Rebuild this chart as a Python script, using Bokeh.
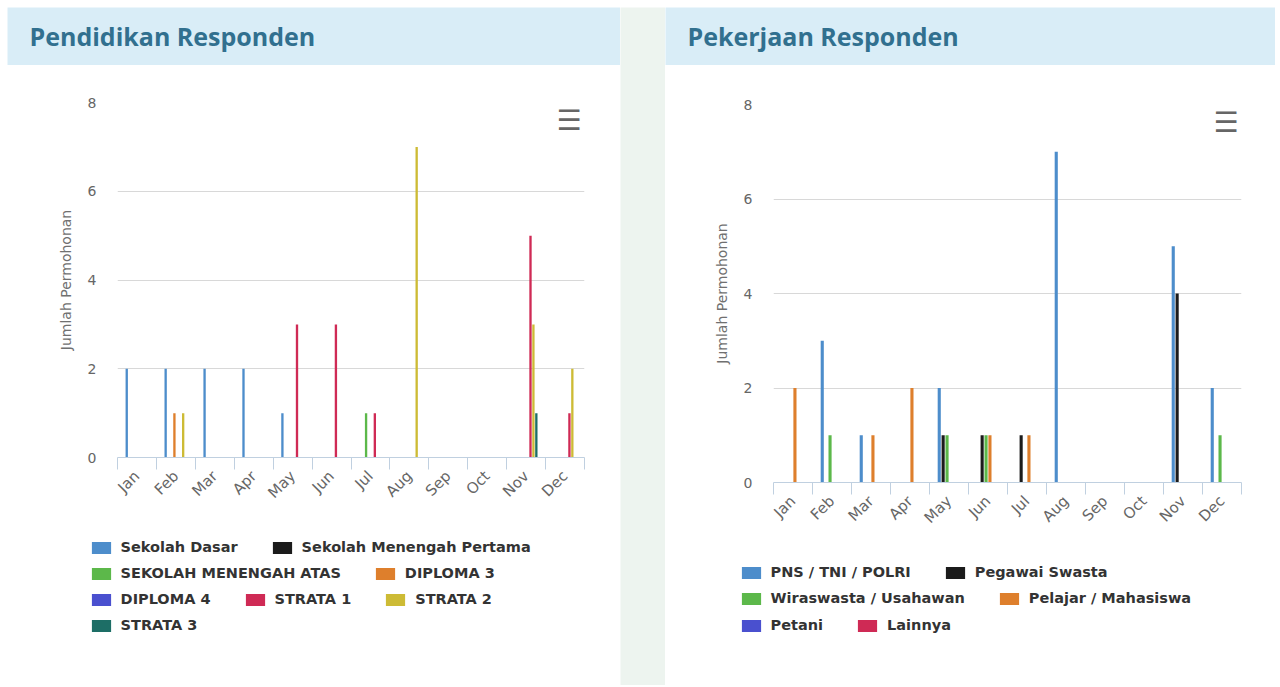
import math
from bokeh.plotting import figure
from bokeh.models import (Range1d, LinearAxis, FixedTicker, Legend, LegendItem,
                          Label, ColumnDataSource, Spacer)
from bokeh.transform import dodge
from bokeh.layouts import row, column
from bokeh.embed import file_html
from bokeh.resources import INLINE

# ---------------- data ----------------
months = ["Jan", "Feb", "Mar", "Apr", "May", "Jun",
          "Jul", "Aug", "Sep", "Oct", "Nov", "Dec"]
y_ticks = [0, 2, 4, 6, 8]

# Pendidikan Responden
edu_names = ["Sekolah Dasar", "Sekolah Menengah Pertama", "SEKOLAH MENENGAH ATAS",
             "DIPLOMA 3", "DIPLOMA 4", "STRATA 1", "STRATA 2", "STRATA 3"]
sekolah_dasar = [2, 2, 2, 2, 1, 0, 0, 0, 0, 0, 0, 0]
sekolah_menengah_pertama = [0, 0, 0, 0, 0, 0, 0, 0, 0, 0, 0, 0]
sekolah_menengah_atas = [0, 0, 0, 0, 0, 0, 1, 0, 0, 0, 0, 0]
diploma_3 = [0, 1, 0, 0, 0, 0, 0, 0, 0, 0, 0, 0]
diploma_4 = [0, 0, 0, 0, 0, 0, 0, 0, 0, 0, 0, 0]
strata_1 = [0, 0, 0, 0, 3, 3, 1, 0, 0, 0, 5, 1]
strata_2 = [0, 1, 0, 0, 0, 0, 0, 7, 0, 0, 3, 2]
strata_3 = [0, 0, 0, 0, 0, 0, 0, 0, 0, 0, 1, 0]
edu_values = [sekolah_dasar, sekolah_menengah_pertama, sekolah_menengah_atas,
              diploma_3, diploma_4, strata_1, strata_2, strata_3]

# Pekerjaan Responden
job_names = ["PNS / TNI / POLRI", "Pegawai Swasta", "Wiraswasta / Usahawan",
             "Pelajar / Mahasiswa", "Petani", "Lainnya"]
pns_tni_polri = [0, 3, 1, 0, 2, 0, 0, 7, 0, 0, 5, 2]
pegawai_swasta = [0, 0, 0, 0, 1, 1, 1, 0, 0, 0, 4, 0]
wiraswasta = [0, 1, 0, 0, 1, 1, 0, 0, 0, 0, 0, 1]
pelajar_mahasiswa = [2, 0, 1, 2, 0, 1, 1, 0, 0, 0, 0, 0]
petani = [0, 0, 0, 0, 0, 0, 0, 0, 0, 0, 0, 0]
lainnya = [0, 0, 0, 0, 0, 0, 0, 0, 0, 0, 0, 0]
job_values = [pns_tni_polri, pegawai_swasta, wiraswasta,
              pelajar_mahasiswa, petani, lainnya]

# ---------------- styles ----------------
C_BLUE = "#4d8dcb"
C_BLACK = "#1b1b1b"
C_GREEN = "#5cb84a"
C_ORANGE = "#de7f2c"
C_PURPLE = "#4a50cf"
C_CRIMSON = "#cf2a55"
C_OLIVE = "#cdbb35"
C_TEAL = "#1d6e66"
edu_colors = [C_BLUE, C_BLACK, C_GREEN, C_ORANGE, C_PURPLE, C_CRIMSON, C_OLIVE, C_TEAL]
job_colors = [C_BLUE, C_BLACK, C_GREEN, C_ORANGE, C_PURPLE, C_CRIMSON]

HEADER_BG = "#d9edf7"
HEADER_FG = "#31708f"
GAP_BG = "#edf4ef"
AXIS_C = "#c0d0e0"
LABEL_C = "#666666"


def blank_fig(width, height, bg, xr=(0, 1), yr=(0, 1)):
    f = figure(width=width, height=height, x_range=Range1d(*xr), y_range=Range1d(*yr),
               toolbar_location=None, output_backend="svg", min_border=0,
               x_axis_location=None, y_axis_location=None)
    f.grid.visible = False
    f.outline_line_color = None
    f.background_fill_color = bg
    f.border_fill_color = bg
    return f


def make_header(title, width):
    h = blank_fig(width, 58, HEADER_BG)
    h.add_layout(Label(x=22, y=30, x_units="screen", y_units="screen", text=title,
                       text_font="Open Sans", text_font_size="25px",
                       text_font_style="bold", text_color=HEADER_FG,
                       text_baseline="middle", text_align="left"))
    return h


def series_source(values):
    data = {"x": [i + 0.5 for i in range(len(months))]}
    for k, v in enumerate(values):
        data["s%d" % k] = v
    return ColumnDataSource(data)


def add_bars(p, src, colors):
    n = len(colors)
    slot = 0.6 / n
    rs = []
    for k in range(n):
        off = (k - (n - 1) / 2) * slot
        rs.append(p.vbar(x=dodge("x", off), top="s%d" % k, bottom=0, width=slot * 0.8,
                         source=src, fill_color=colors[k], line_color=None))
    return rs


def make_chart(src, colors, width, height, mb_left, mb_right, mb_top, mb_bottom,
               icon_xy):
    p = figure(width=width, height=height, x_range=Range1d(0, 12), y_range=Range1d(0, 8),
               toolbar_location=None, output_backend="svg", x_axis_location=None,
               min_border_left=mb_left, min_border_right=mb_right,
               min_border_top=mb_top, min_border_bottom=mb_bottom)
    p.outline_line_color = None
    p.background_fill_color = "white"
    p.border_fill_color = "white"
    p.xgrid.visible = False
    p.ygrid.ticker = FixedTicker(ticks=y_ticks)
    p.ygrid.grid_line_color = "#d8d8d8"

    add_bars(p, src, colors)

    centers = [i + 0.5 for i in range(len(months))]
    # x axis: boundary ticks as minor ticks, month labels at centres
    xaxis = LinearAxis(ticker=FixedTicker(ticks=centers,
                                          minor_ticks=list(range(len(months) + 1))),
                       major_label_overrides={c: m for c, m in zip(centers, months)})
    xaxis.axis_line_color = AXIS_C
    xaxis.major_tick_line_color = None
    xaxis.major_tick_out = 0
    xaxis.major_tick_in = 0
    xaxis.minor_tick_line_color = AXIS_C
    xaxis.minor_tick_in = 0
    xaxis.minor_tick_out = 12
    xaxis.major_label_orientation = math.pi / 4
    xaxis.major_label_standoff = 4
    xaxis.major_label_text_font = "DejaVu Sans"
    xaxis.major_label_text_font_size = "15px"
    xaxis.major_label_text_color = LABEL_C
    p.add_layout(xaxis, "below")

    yaxis = p.yaxis[0]
    yaxis.ticker = FixedTicker(ticks=y_ticks)
    yaxis.axis_line_color = None
    yaxis.major_tick_line_color = None
    yaxis.minor_tick_line_color = None
    yaxis.major_label_standoff = 15
    yaxis.major_label_text_font = "DejaVu Sans"
    yaxis.major_label_text_font_size = "14px"
    yaxis.major_label_text_color = LABEL_C
    yaxis.axis_label = "Jumlah Permohonan"
    yaxis.axis_label_text_font = "DejaVu Sans"
    yaxis.axis_label_text_font_style = "normal"
    yaxis.axis_label_text_font_size = "14px"
    yaxis.axis_label_text_color = "#707070"
    yaxis.axis_label_standoff = 11

    p.add_layout(Label(x=icon_xy[0], y=icon_xy[1], x_units="screen", y_units="screen",
                       text="\u2630", text_font="DejaVu Sans", text_font_size="28px",
                       text_color="#666666", text_baseline="middle", text_align="left"))
    return p


def make_legend(src, names, colors, width, height, rows, row_centers, x0):
    # the bars are re-used only as legend swatches; the view range keeps them hidden
    f = blank_fig(width, height, "white", xr=(-20, -19), yr=(0, 1))
    swatches = add_bars(f, src, colors)
    for items, cy in zip(rows, row_centers):
        h = 16
        leg = Legend(items=[LegendItem(label=names[k], renderers=[swatches[k]]) for k in items],
                     location=(x0, height - cy - h / 2), orientation="horizontal",
                     glyph_width=24, glyph_height=15, label_height=h, label_standoff=8,
                     spacing=32, padding=0, margin=0, border_line_color=None,
                     background_fill_alpha=0, label_text_font="DejaVu Sans",
                     label_text_font_size="14.5px", label_text_font_style="bold",
                     label_text_color="#333333", label_text_baseline="middle")
        f.add_layout(leg)
    return f


LEFT_W, GAP_W, RIGHT_W = 613, 45, 610
HDR_H = 58
PANEL_H = 620   # below the header

edu_src = series_source(edu_values)
job_src = series_source(job_values)

# left panel
L_CH_H = 455
p_left = make_chart(edu_src, edu_colors, LEFT_W, L_CH_H, 110, 36, 37, 63, (439, 337.5))
l_left = make_legend(edu_src, edu_names, edu_colors, LEFT_W, PANEL_H - L_CH_H,
                     [[0, 1], [2, 3], [4, 5, 6], [7]], [27, 53, 79, 105], 81.6)
# right panel
R_CH_H = 475
p_right = make_chart(job_src, job_colors, RIGHT_W, R_CH_H, 108, 34, 39, 58, (440, 360.5))
l_right = make_legend(job_src, job_names, job_colors, RIGHT_W, PANEL_H - R_CH_H,
                      [[0, 1], [2, 3], [4, 5]], [32, 58, 85], 73.6)

h_left = make_header("Pendidikan Responden", LEFT_W)
h_right = make_header("Pekerjaan Responden", RIGHT_W)

gap = blank_fig(GAP_W, HDR_H + PANEL_H, GAP_BG)

left_panel = column(row(h_left), row(p_left), row(l_left))
right_panel = column(row(h_right), row(p_right), row(l_right))

layout = column(Spacer(width=10, height=7),
                row(Spacer(width=7, height=10), left_panel, gap, right_panel))

open("out.html", "w").write(file_html(layout, INLINE))
